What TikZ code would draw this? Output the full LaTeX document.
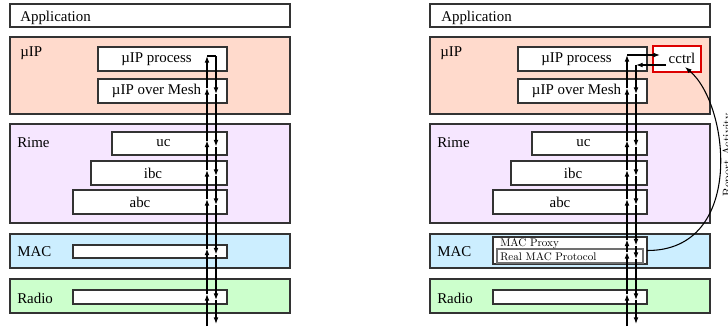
\documentclass[tikz,border=0pt]{standalone}
\usepackage{fontspec}
\setmainfont{Liberation Serif}
\newfontfamily\lmfont{lmroman10}[Extension=.otf,UprightFont=*-regular]
\usetikzlibrary{arrows.meta,calc}
\definecolor{ipcol}{HTML}{FFDACC}
\definecolor{rimecol}{HTML}{F6E6FF}
\definecolor{maccol}{HTML}{CCEEFF}
\definecolor{radiocol}{HTML}{CCFFCC}
\definecolor{edgecol}{HTML}{333333}
\definecolor{ctrlcol}{HTML}{DD0000}
\newcommand{\pxu}{0.75pt}

\begin{document}
\begin{tikzpicture}[x=\pxu,y=-\pxu,
   layer/.style={draw=edgecol,line width=1.1pt,anchor=north west,inner sep=0pt,
              outer sep=0pt,minimum width=280*\pxu},
   box/.style={draw=edgecol,line width=0.8pt,fill=white,anchor=north west,
              inner sep=0pt,outer sep=0pt},
   txt/.style={font=\fontsize{11.2}{13}\selectfont,inner sep=0pt},
   lmtxt/.style={font=\lmfont\fontsize{8.3}{10}\selectfont,inner sep=0pt},
   hairline/.style={line width=0.8pt},
   flow/.style={line width=0.8pt,-{Latex[length=5pt,width=3.6pt]}},
]
\useasboundingbox (0,0) rectangle (728,326);

% ---------------- plain stack ----------------
\node[layer,minimum height=23*\pxu] (lapp) at (10,4) {};
\node[layer,fill=ipcol,minimum height=77*\pxu] (lip) at (10,37) {};
\node[layer,fill=rimecol,minimum height=99*\pxu] (lrime) at (10,124) {};
\node[layer,fill=maccol,minimum height=34*\pxu] (lmac) at (10,234) {};
\node[layer,fill=radiocol,minimum height=34*\pxu] (lradio) at (10,279) {};

\node[txt,anchor=base west] at ($(lapp.north west)+(10,17)$) {Application};
\node[txt,anchor=base west] at ($(lip.north west)+(10,19)$) {µIP};
\node[txt,anchor=base west] at ($(lrime.north west)+(7,23)$) {Rime};
\node[txt,anchor=base west] at ($(lmac.north west)+(7,22)$) {MAC};
\node[txt,anchor=base west] at ($(lradio.north west)+(7,24)$) {Radio};

\node[box,minimum width=129*\pxu,minimum height=24*\pxu,
      label={[txt,xshift=-6*\pxu]center:µIP process}] (lproc) at (98,47) {};
\node[box,minimum width=129*\pxu,minimum height=24*\pxu,
      label={[txt,xshift=-6*\pxu]center:µIP over Mesh}] (lmesh) at (98,79) {};
\node[box,minimum width=115*\pxu,minimum height=23*\pxu,
      label={[txt,xshift=-6*\pxu]center:uc}] (luc) at (112,132) {};
\node[box,minimum width=136*\pxu,minimum height=24*\pxu,
      label={[txt,xshift=-6*\pxu]center:ibc}] (libc) at (91,161) {};
\node[box,minimum width=154*\pxu,minimum height=24*\pxu,
      label={[txt,xshift=-10*\pxu]center:abc}] (labc) at (73,190) {};
\node[box,minimum width=154*\pxu,minimum height=13*\pxu] (lmacbox) at (73,245) {};
\node[box,minimum width=154*\pxu,minimum height=14*\pxu] (lradbox) at (73,290) {};

% marks on the up/down lines, one pair per box
\foreach \b in {proc,mesh,uc,ibc,abc,macbox,radbox}{
  \coordinate (lu\b) at ($(l\b.east)+(-20,-3)$);
  \coordinate (ld\b) at ($(l\b.east)+(-11,3)$);
}
\coordinate (lubot) at ($(lradbox.east)+(-20,29)$);
\coordinate (ldbot) at ($(lradbox.east)+(-11,27)$);

\draw[flow] (lubot) -- (luradbox);
\foreach \a/\b in {radbox/macbox,macbox/abc,abc/ibc,ibc/uc,uc/mesh,mesh/proc}
  \draw[flow] (lu\a) -- (lu\b);
\draw[hairline] (luproc) -- ($(lproc.east)+(-11,-3)$) coordinate (ldtop);
\draw[flow] (ldtop) -- (ldmesh);
\foreach \a/\b in {mesh/uc,uc/ibc,ibc/abc,abc/macbox,macbox/radbox}
  \draw[flow] (ld\a) -- (ld\b);
\draw[flow] (ldradbox) -- (ldbot);

% ---------------- stack with MAC proxy ----------------
\node[layer,minimum height=23*\pxu] (rapp) at (430,4) {};
\node[layer,fill=ipcol,minimum height=77*\pxu] (rip) at (430,37) {};
\node[layer,fill=rimecol,minimum height=99*\pxu] (rrime) at (430,124) {};
\node[layer,fill=maccol,minimum height=34*\pxu] (rmac) at (430,234) {};
\node[layer,fill=radiocol,minimum height=34*\pxu] (rradio) at (430,279) {};

\node[txt,anchor=base west] at ($(rapp.north west)+(11,17)$) {Application};
\node[txt,anchor=base west] at ($(rip.north west)+(10,19)$) {µIP};
\node[txt,anchor=base west] at ($(rrime.north west)+(7,23)$) {Rime};
\node[txt,anchor=base west] at ($(rmac.north west)+(7,22)$) {MAC};
\node[txt,anchor=base west] at ($(rradio.north west)+(7,24)$) {Radio};

\node[box,minimum width=129*\pxu,minimum height=24*\pxu,
      label={[txt,xshift=-6*\pxu]center:µIP process}] (rproc) at (518,47) {};
\node[box,minimum width=129*\pxu,minimum height=24*\pxu,
      label={[txt,xshift=-6*\pxu]center:µIP over Mesh}] (rmesh) at (518,79) {};
\node[box,minimum width=115*\pxu,minimum height=23*\pxu,
      label={[txt,xshift=-6*\pxu]center:uc}] (ruc) at (532,132) {};
\node[box,minimum width=136*\pxu,minimum height=24*\pxu,
      label={[txt,xshift=-6*\pxu]center:ibc}] (ribc) at (511,161) {};
\node[box,minimum width=154*\pxu,minimum height=24*\pxu,
      label={[txt,xshift=-10*\pxu]center:abc}] (rabc) at (493,190) {};
\node[box,minimum width=154*\pxu,minimum height=27*\pxu] (rproxy) at (493,237) {};
\node[box,draw=edgecol!70,minimum width=146*\pxu,minimum height=14*\pxu] (rreal) at (497,249) {};
\node[lmtxt,anchor=base west] at ($(rproxy.north west)+(7,9)$) {MAC Proxy};
\node[lmtxt,anchor=base west] at ($(rreal.south west)+(3,-3)$) {Real MAC Protocol};
\node[box,minimum width=154*\pxu,minimum height=14*\pxu] (rradbox) at (493,290) {};
\node[box,draw=ctrlcol,line width=1.6pt,minimum width=48*\pxu,minimum height=26*\pxu,
      label={[txt,xshift=5*\pxu,yshift=1*\pxu]center:cctrl}] (rcctrl) at (653,46) {};

\foreach \b in {mesh,uc,ibc,abc,radbox}{
  \coordinate (ru\b) at ($(r\b.east)+(-20,-3)$);
  \coordinate (rd\b) at ($(r\b.east)+(-11,3)$);
}
\coordinate (ruproc) at ($(rproc.east)+(-20,-4)$);
\coordinate (ruproxy) at ($(rproxy.east)+(-20,-11)$);
\coordinate (rdproxy) at ($(rproxy.east)+(-11,-5)$);
\coordinate (rureal) at ($(rreal.east)+(-16,-4)$);
\coordinate (rdreal) at ($(rreal.east)+(-7,3)$);
\coordinate (rubot) at ($(rradbox.east)+(-20,29)$);
\coordinate (rdbot) at ($(rradbox.east)+(-11,27)$);

\draw[flow] (rubot) -- (ruradbox);
\foreach \a/\b in {radbox/real,real/proxy,proxy/abc,abc/ibc,ibc/uc,uc/mesh,mesh/proc}
  \draw[flow] (ru\a) -- (ru\b);
\draw[flow] (ruproc) -- ($(rcctrl.west)+(7,-4)$);
\draw[flow] ($(rcctrl.west)+(13,6)$) -- ($(rproc.east)+(-11,6)$) coordinate (rdtop);
\draw[flow] (rdtop) -- (rdmesh);
\foreach \a/\b in {mesh/uc,uc/ibc,ibc/abc,abc/proxy,proxy/real,real/radbox}
  \draw[flow] (rd\a) -- (rd\b);
\draw[flow] (rdradbox) -- (rdbot);

% activity report back to cctrl
\draw[flow] (rproxy.east) .. controls (745,251) and (730,105) ..
    ($(rcctrl.south east)+(-16,-5)$);
\node[lmtxt,font=\lmfont\fontsize{9}{11}\selectfont,rotate=90] (ract) at (728,155)
    {Report Activity};
\end{tikzpicture}
\end{document}
